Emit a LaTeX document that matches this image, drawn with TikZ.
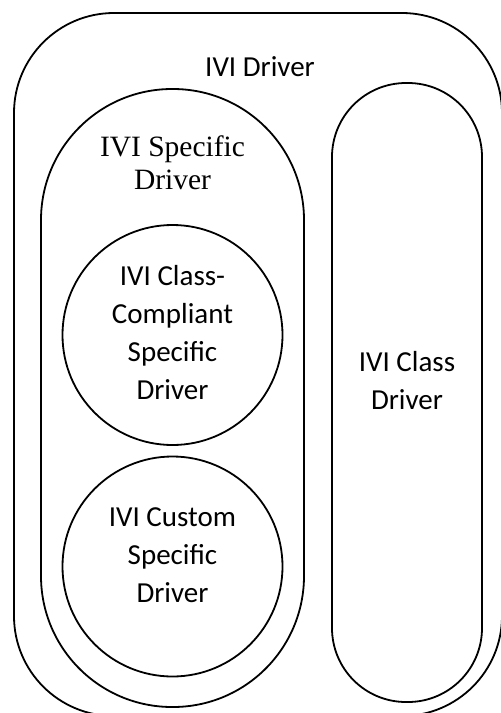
\documentclass[tikz,border=0pt]{standalone}
\usepackage{fontspec}
\setmainfont{Liberation Serif}
\newfontfamily\calib{Carlito}
\tikzset{
  ring/.style={draw, line width=1.8pt},
  lab/.style={font=\calib\fontsize{29}{38}\selectfont, align=center, inner sep=0pt},
  serlab/.style={font=\fontsize{29.5}{33}\selectfont, align=center, inner sep=0pt},
}
\begin{document}
\begin{tikzpicture}[x=1pt,y=-1pt]
  \clip (0,0) rectangle (501,713);
  % outer box and the two pills
  \draw[ring, rounded corners=100pt] (14,13) rectangle (502,716);
  \draw[ring, rounded corners=131pt] (41,89) rectangle (304,707);
  \draw[ring, rounded corners=74pt] (332,83) rectangle (482,702);
  \node[ring, circle, minimum size=220pt, inner sep=0pt] (cc) at (172.5,335) {};
  \node[ring, circle, minimum size=220pt, inner sep=0pt] (cust) at (172.5,566.5) {};
  % labels
  \node[lab] (ividrv) at (260,66.5) {IVI Driver};
  \node[serlab] (spec) at (172.5,163) {IVI Specific\\Driver};
  \node[lab] (cctxt) at (172.5,333) {IVI Class-\\Compliant\\Specific\\Driver};
  \node[lab] (custtxt) at (172.5,555) {IVI Custom\\Specific\\Driver};
  \node[lab] (clsdrv) at (407,381) {IVI Class\\Driver};
\end{tikzpicture}
\end{document}
